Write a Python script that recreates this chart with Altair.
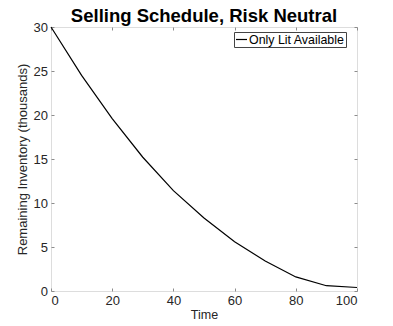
import altair as alt
import pandas as pd

# Data
time = [0, 10, 20, 30, 40, 50, 60, 70, 80, 90, 100]
inventory = [30.0, 24.5, 19.6, 15.2, 11.4, 8.3, 5.6, 3.4, 1.6, 0.6, 0.4]
series_name = "Only Lit Available"
chart_title = "Selling Schedule, Risk Neutral"
x_ticks = [0, 20, 40, 60, 80, 100]
y_ticks = [0, 5, 10, 15, 20, 25, 30]

df = pd.DataFrame({"Time": time, "Inventory": inventory, "series": [series_name] * len(time)})
title_df = pd.DataFrame({"label": [chart_title]})

FONT = "Liberation Sans"
AX = "#8c8c8c"
TXT = "#262626"
W, H = 306, 264

xs = alt.Scale(domain=[0, 100], nice=False, zero=False)
ys = alt.Scale(domain=[0, 30], nice=False, zero=False)

main = alt.Chart(df).mark_line(strokeWidth=1.2, color="black").encode(
    x=alt.X("Time:Q", scale=xs, title="Time",
            axis=alt.Axis(orient="bottom", values=x_ticks, offset=-3, tickSize=3,
                          tickColor=AX, domain=False, grid=False, labelPadding=3,
                          labelFont=FONT, labelFontSize=13, labelColor=TXT,
                          titleFont=FONT, titleFontSize=12.5, titleFontWeight="normal",
                          titleColor=TXT, titlePadding=1)),
    y=alt.Y("Inventory:Q", scale=ys, title="Remaining Inventory (thousands)",
            axis=alt.Axis(orient="left", values=y_ticks, offset=-3, tickSize=3,
                          tickColor=AX, domain=False, grid=False, labelPadding=3.5,
                          labelFont=FONT, labelFontSize=13, labelColor=TXT,
                          titleFont=FONT, titleFontSize=13, titleFontWeight="normal",
                          titleColor=TXT, titlePadding=4)),
    color=alt.Color("series:N", scale=alt.Scale(range=["black"]),
                    legend=alt.Legend(title=None, orient="none", legendX=183, legendY=5,
                                      symbolType="stroke", symbolSize=121, symbolStrokeWidth=1.2,
                                      labelFont=FONT, labelFontSize=12.4, labelColor="black",
                                      labelOffset=1, padding=1, strokeColor="#444444",
                                      fillColor="white", cornerRadius=0)),
)

mirror = alt.Chart(df).mark_line(opacity=0).encode(
    x=alt.X("Time:Q", scale=xs,
            axis=alt.Axis(orient="top", values=x_ticks, offset=-3, tickSize=3, tickColor=AX,
                          domain=False, grid=False, labels=False, title=None,
                          minExtent=0, maxExtent=0)),
    y=alt.Y("Inventory:Q", scale=ys,
            axis=alt.Axis(orient="right", values=y_ticks, offset=-3, tickSize=3, tickColor=AX,
                          domain=False, grid=False, labels=False, title=None,
                          minExtent=0, maxExtent=0)),
)

title_layer = alt.Chart(title_df).mark_text(
    font=FONT, fontSize=18.5, fontWeight="bold", color="black",
    align="center", baseline="alphabetic", clip=False,
).encode(text="label:N", x=alt.value(W / 2), y=alt.value(-5))

chart = alt.layer(main, mirror, title_layer).resolve_axis(x="independent", y="independent").properties(
    width=W,
    height=H,
    autosize=alt.AutoSizeParams(type="none"),
    padding={"left": 43, "top": 19, "right": 20, "bottom": 30},
).configure_view(stroke=AX, strokeWidth=1).configure(background="white")

chart.save("out.html", embed_options={"renderer": "svg", "actions": False})
